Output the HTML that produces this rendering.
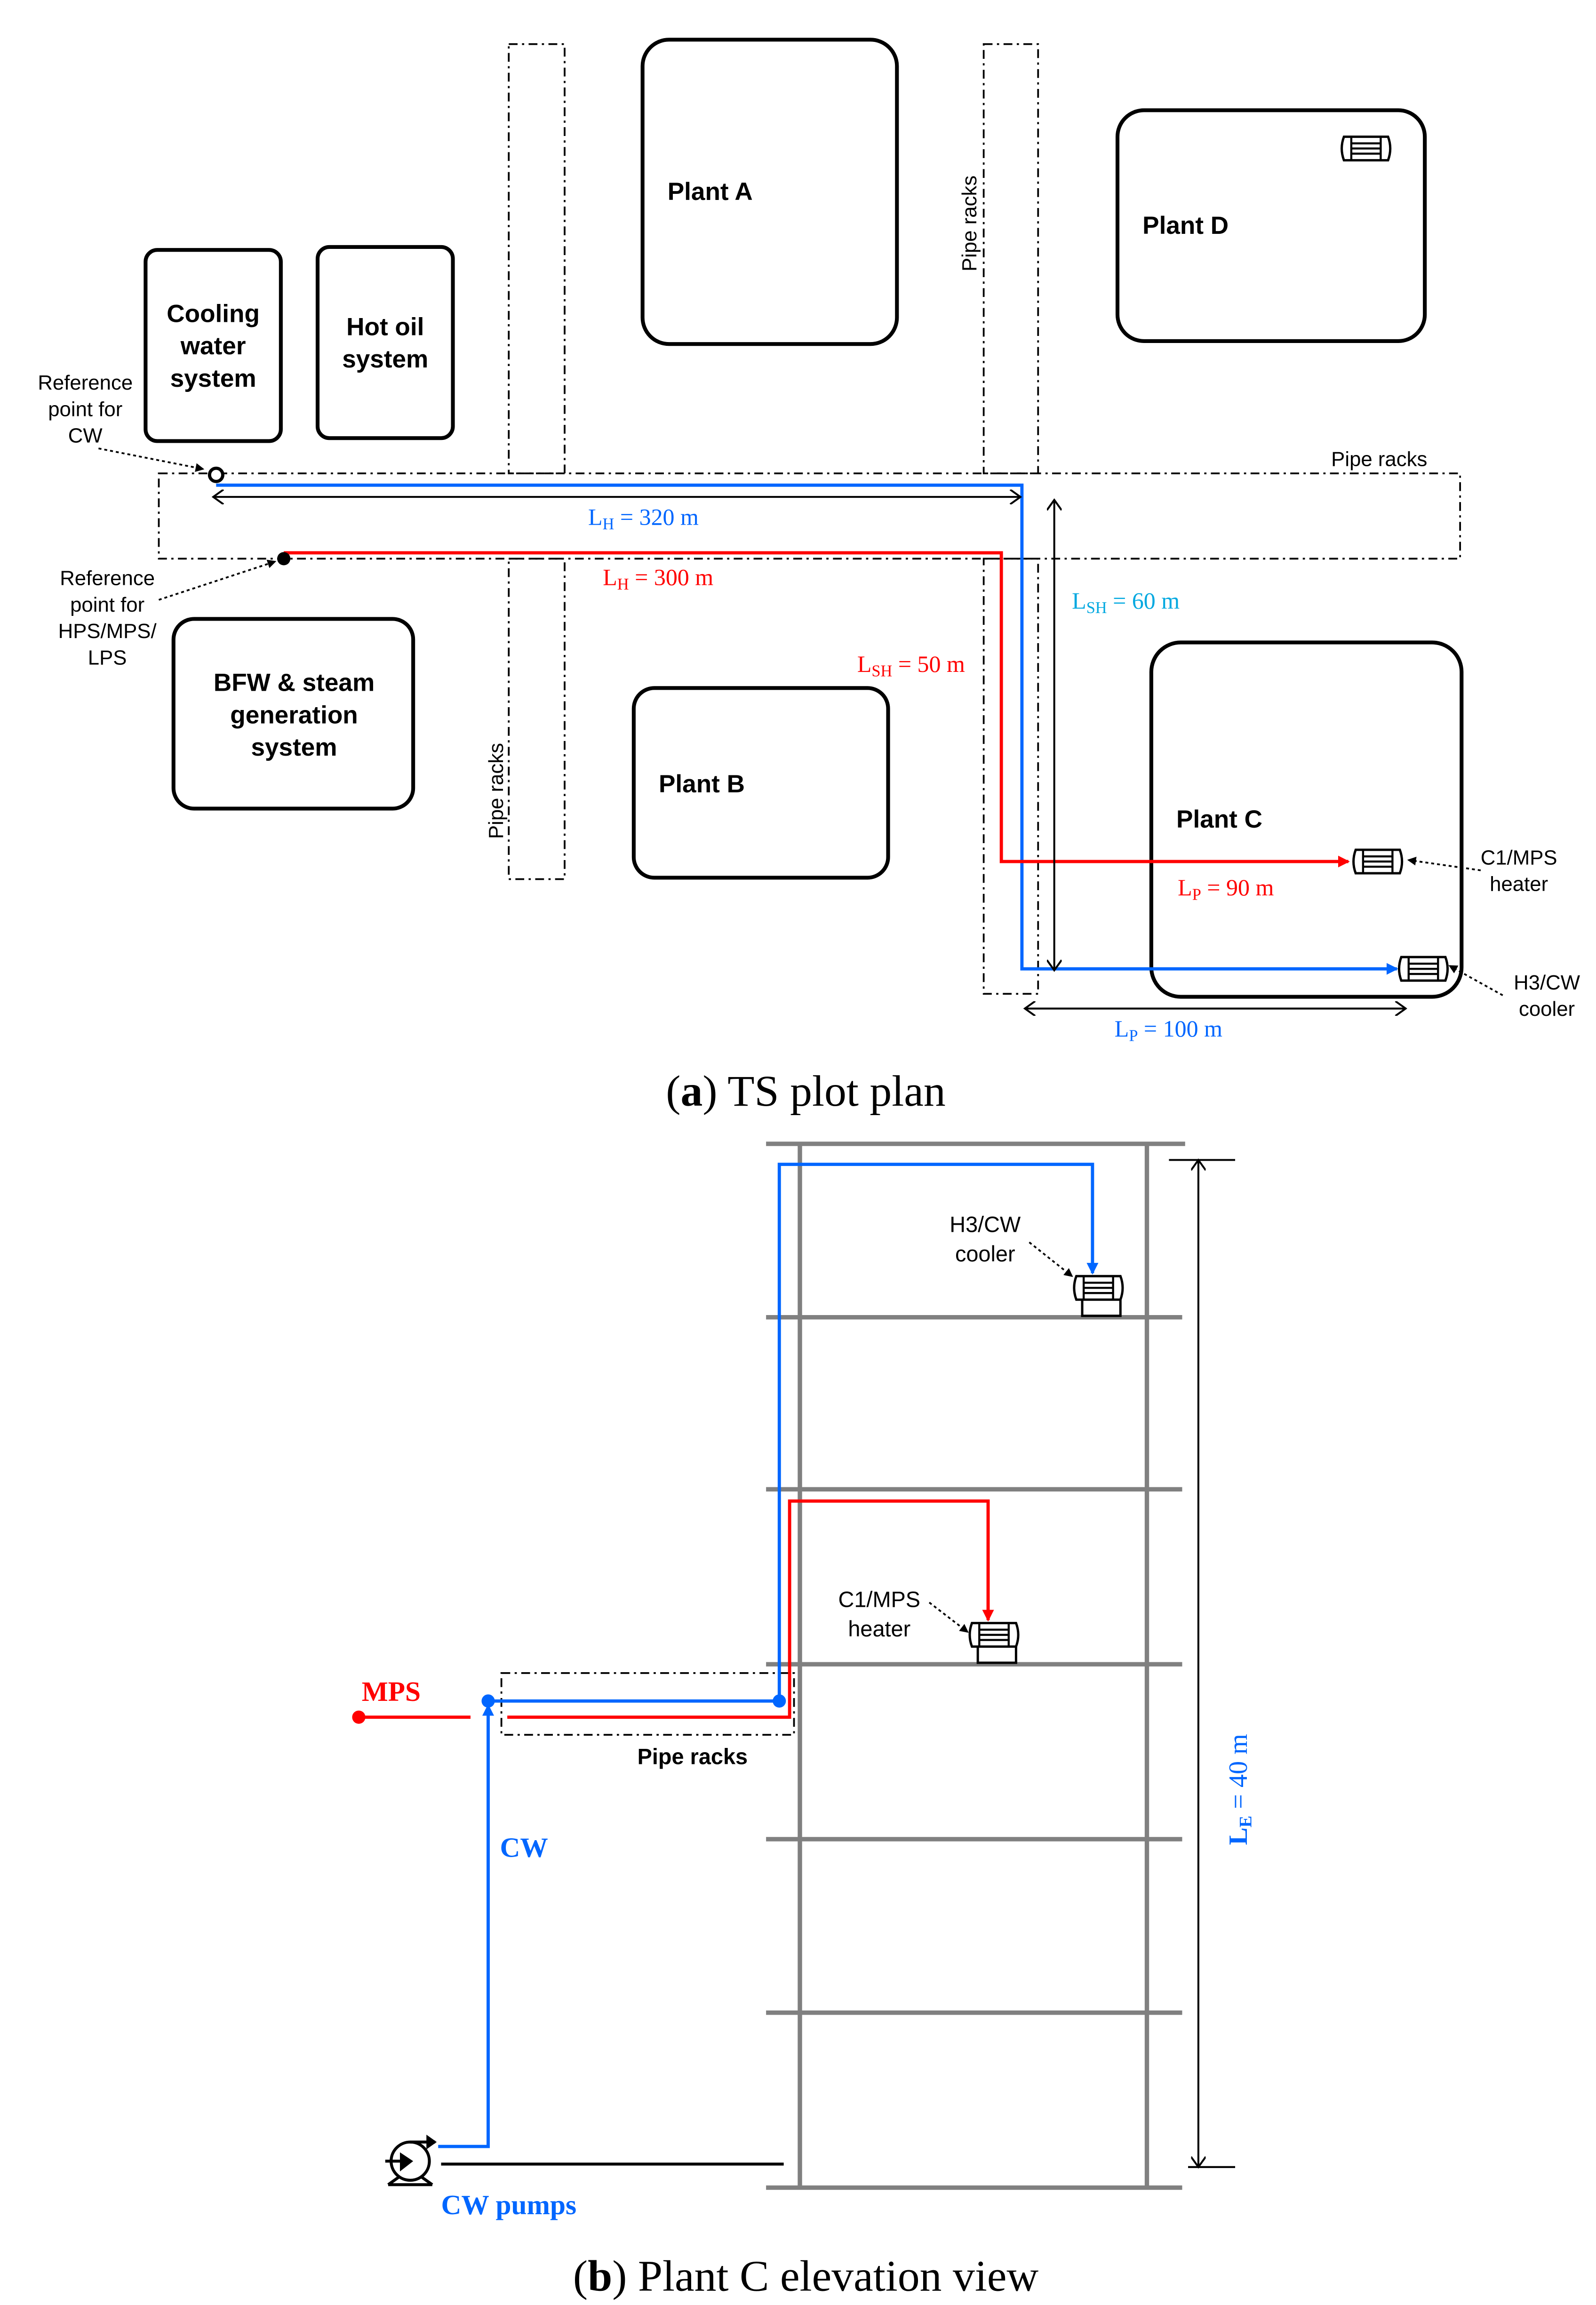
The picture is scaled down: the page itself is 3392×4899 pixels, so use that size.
<!DOCTYPE html>
<html><head><meta charset="utf-8"><style>
html,body{margin:0;padding:0;background:#fff;}
svg{display:block;}
.s{font-family:"Liberation Sans",sans-serif;}
.r{font-family:"Liberation Serif",serif;}
</style></head><body>
<svg width="3392" height="4899" viewBox="0 0 1080 1560" preserveAspectRatio="none" xmlns="http://www.w3.org/2000/svg">
<defs>
<marker id="ab" markerWidth="8" markerHeight="8" refX="7" refY="4" orient="auto" markerUnits="userSpaceOnUse"><path d="M0,0 L8,4 L0,8z" fill="#0066ff"/></marker>
<marker id="ar" markerWidth="8" markerHeight="8" refX="7" refY="4" orient="auto" markerUnits="userSpaceOnUse"><path d="M0,0 L8,4 L0,8z" fill="#ff0000"/></marker>
<marker id="ak" markerWidth="10" markerHeight="10" refX="9" refY="5" orient="auto" markerUnits="userSpaceOnUse"><path d="M2,0 L9,5 L2,10" fill="none" stroke="#000" stroke-width="1.3"/></marker>
<marker id="ak0" markerWidth="10" markerHeight="10" refX="1" refY="5" orient="auto" markerUnits="userSpaceOnUse"><path d="M8,0 L1,5 L8,10" fill="none" stroke="#000" stroke-width="1.3"/></marker>
<marker id="ad" markerWidth="6" markerHeight="6" refX="5" refY="3" orient="auto" markerUnits="userSpaceOnUse"><path d="M0,0 L6,3 L0,6z" fill="#000"/></marker>
<g id="hx"><path d="M2,0 H32 Q35,8 32,16 H2 Q-1,8 2,0z" fill="#fff" stroke="#000" stroke-width="1.6"/><path d="M7,0V16M27,0V16M7,4.5H27M7,8H27M7,11.5H27" stroke="#000" stroke-width="1.4"/></g>
</defs>
<g transform="scale(0.995)">
<g fill="none" stroke="#000">
<g stroke-width="1.2" stroke-dasharray="6,3,1.5,3">
<rect x="346" y="30" width="38" height="292"/>
<rect x="669" y="30" width="37" height="292"/>
<rect x="108" y="322" width="885" height="58"/>
<rect x="346" y="380" width="38" height="218"/>
<rect x="669" y="380" width="37" height="296"/>
</g>
<g stroke-width="2.6">
<rect x="99" y="170" width="92" height="130" rx="8"/>
<rect x="216" y="168" width="92" height="130" rx="8"/>
<rect x="437" y="27" width="173" height="207" rx="18"/>
<rect x="760" y="75" width="209" height="157" rx="18"/>
<rect x="118" y="421" width="163" height="129" rx="14"/>
<rect x="431" y="468" width="173" height="129" rx="14"/>
<rect x="783" y="437" width="211" height="241" rx="20"/>
</g>
</g>
<use href="#hx" x="912" y="93"/>
<polyline points="147,330 695,330 695,659 950,659" fill="none" stroke="#0066ff" stroke-width="2.2" marker-end="url(#ab)"/>
<polyline points="193,376 681,376 681,586 917,586" fill="none" stroke="#ff0000" stroke-width="2.2" marker-end="url(#ar)"/>
<circle cx="147" cy="323" r="4.5" fill="#fff" stroke="#000" stroke-width="2.2"/>
<circle cx="193" cy="380" r="4.5" fill="#000"/>
<use href="#hx" x="920" y="578"/>
<use href="#hx" x="951" y="651"/>
<g fill="none" stroke="#000" stroke-width="1.3">
<line x1="145" y1="338" x2="694" y2="338" marker-end="url(#ak)" marker-start="url(#ak0)"/>
<line x1="717" y1="340" x2="717" y2="660" marker-end="url(#ak)" marker-start="url(#ak0)"/>
<line x1="697" y1="686" x2="956" y2="686" marker-end="url(#ak)" marker-start="url(#ak0)"/>
</g>
<g fill="none" stroke="#000" stroke-width="1.2" stroke-dasharray="2,2">
<line x1="67" y1="305" x2="138" y2="319" marker-end="url(#ad)"/>
<line x1="108" y1="408" x2="187" y2="382" marker-end="url(#ad)"/>
<line x1="1007" y1="592" x2="958" y2="585" marker-end="url(#ad)"/>
<line x1="1022" y1="677" x2="986" y2="657" marker-end="url(#ad)"/>
<line x1="700" y1="845" x2="729" y2="868" marker-end="url(#ad)"/>
<line x1="632" y1="1090" x2="658" y2="1110" marker-end="url(#ad)"/>
</g>
<g class="s" font-weight="bold" font-size="17" text-anchor="middle">
<text x="145" y="219">Cooling</text><text x="145" y="241">water</text><text x="145" y="263">system</text>
<text x="262" y="228">Hot oil</text><text x="262" y="250">system</text>
<text x="200" y="470">BFW &amp; steam</text><text x="200" y="492">generation</text><text x="200" y="514">system</text>
</g>
<g class="s" font-weight="bold" font-size="17">
<text x="454" y="136">Plant A</text><text x="777" y="159">Plant D</text><text x="448" y="539">Plant B</text><text x="800" y="563">Plant C</text>
</g>
<g class="s" font-size="14" text-anchor="middle">
<text x="58" y="265">Reference</text><text x="58" y="283">point for</text><text x="58" y="301">CW</text>
<text x="73" y="398">Reference</text><text x="73" y="416">point for</text><text x="73" y="434">HPS/MPS/</text><text x="73" y="452">LPS</text>
<text x="1033" y="588">C1/MPS</text><text x="1033" y="606">heater</text>
<text x="1052" y="673">H3/CW</text><text x="1052" y="691">cooler</text>
<text x="938" y="317">Pipe racks</text>
<text transform="translate(664,152) rotate(-90)">Pipe racks</text>
<text transform="translate(342,538) rotate(-90)">Pipe racks</text>
</g>
<g class="r" font-size="16">
<text x="400" y="357" fill="#0066ff">L<tspan font-size="11" dy="3">H</tspan><tspan dy="-3"> = 320 m</tspan></text>
<text x="410" y="398" fill="#ff0000">L<tspan font-size="11" dy="3">H</tspan><tspan dy="-3"> = 300 m</tspan></text>
<text x="583" y="457" fill="#ff0000">L<tspan font-size="11" dy="3">SH</tspan><tspan dy="-3"> = 50 m</tspan></text>
<text x="729" y="414" fill="#00a8e0">L<tspan font-size="11" dy="3">SH</tspan><tspan dy="-3"> = 60 m</tspan></text>
<text x="801" y="609" fill="#ff0000">L<tspan font-size="11" dy="3">P</tspan><tspan dy="-3"> = 90 m</tspan></text>
<text x="758" y="705" fill="#0066ff">L<tspan font-size="11" dy="3">P</tspan><tspan dy="-3"> = 100 m</tspan></text>
</g>
<text x="548" y="752" class="r" font-size="30" text-anchor="middle">(<tspan font-weight="bold">a</tspan>) TS plot plan</text>
<g stroke="#808080" stroke-width="3">
<line x1="544" y1="778" x2="544" y2="1488"/><line x1="780" y1="778" x2="780" y2="1488"/>
<line x1="521" y1="778" x2="806" y2="778"/><line x1="521" y1="896" x2="804" y2="896"/>
<line x1="521" y1="1013" x2="804" y2="1013"/><line x1="521" y1="1132" x2="804" y2="1132"/>
<line x1="521" y1="1251" x2="804" y2="1251"/><line x1="521" y1="1369" x2="804" y2="1369"/>
<line x1="521" y1="1488" x2="804" y2="1488"/>
</g>
<rect x="341" y="1138" width="199" height="42" fill="none" stroke="#000" stroke-width="1.2" stroke-dasharray="6,3,1.5,3"/>
<polyline points="298,1460 332,1460 332,1160" fill="none" stroke="#0066ff" stroke-width="2.2" marker-end="url(#ab)"/>
<polyline points="332,1157 530,1157 530,792 743,792 743,866" fill="none" stroke="#0066ff" stroke-width="2.2" marker-end="url(#ab)"/>
<line x1="244" y1="1168" x2="320" y2="1168" stroke="#ff0000" stroke-width="2.2"/>
<polyline points="345,1168 537,1168 537,1021 672,1021 672,1102" fill="none" stroke="#ff0000" stroke-width="2.2" marker-end="url(#ar)"/>
<circle cx="244" cy="1168" r="4.5" fill="#ff0000"/>
<circle cx="332" cy="1157" r="4.5" fill="#0066ff"/>
<circle cx="530" cy="1157" r="4.5" fill="#0066ff"/>
<g transform="translate(749,877)"><use href="#hx" x="-19" y="-9"/><path d="M-13,7V18H13V7" fill="none" stroke="#000" stroke-width="1.6"/></g>
<g transform="translate(678,1113)"><use href="#hx" x="-19" y="-9"/><path d="M-13,7V18H13V7" fill="none" stroke="#000" stroke-width="1.6"/></g>
<g fill="none" stroke="#000" stroke-width="2">
<circle cx="279" cy="1470" r="13"/>
<path d="M264,1486 L271,1481 M294,1486 L287,1481 M264,1486 H294"/>
<line x1="262" y1="1470" x2="276" y2="1470"/>
<line x1="279" y1="1457" x2="296" y2="1457"/>
<line x1="300" y1="1472" x2="533" y2="1472"/>
</g>
<path d="M272,1464 L281,1470 L272,1477z" fill="#000"/>
<path d="M290,1452 L297,1457 L290,1462z" fill="#000"/>
<g stroke="#000" stroke-width="1.3" fill="none">
<line x1="815" y1="789" x2="815" y2="1474" marker-end="url(#ak)" marker-start="url(#ak0)"/>
<line x1="795" y1="789" x2="840" y2="789"/><line x1="808" y1="1474" x2="840" y2="1474"/>
</g>
<g class="s" font-size="15" text-anchor="middle">
<text x="670" y="838">H3/CW</text><text x="670" y="858">cooler</text>
<text x="598" y="1093">C1/MPS</text><text x="598" y="1113">heater</text>
<text x="471" y="1200" font-weight="bold">Pipe racks</text>
</g>
<g class="r" font-size="19" font-weight="bold">
<text x="246" y="1157" fill="#ff0000">MPS</text>
<text x="340" y="1263" fill="#0066ff">CW</text>
<text x="300" y="1506" fill="#0066ff">CW pumps</text>
</g>
<text transform="translate(848,1255) rotate(-90)" class="r" font-size="18" fill="#0066ff"><tspan font-weight="bold">L</tspan><tspan font-size="12" dy="3" font-weight="bold">E</tspan><tspan dy="-3"> = 40 m</tspan></text>
<text x="548" y="1558" class="r" font-size="30" text-anchor="middle">(<tspan font-weight="bold">b</tspan>) Plant C elevation view</text>
</g>
</svg>
</body></html>
